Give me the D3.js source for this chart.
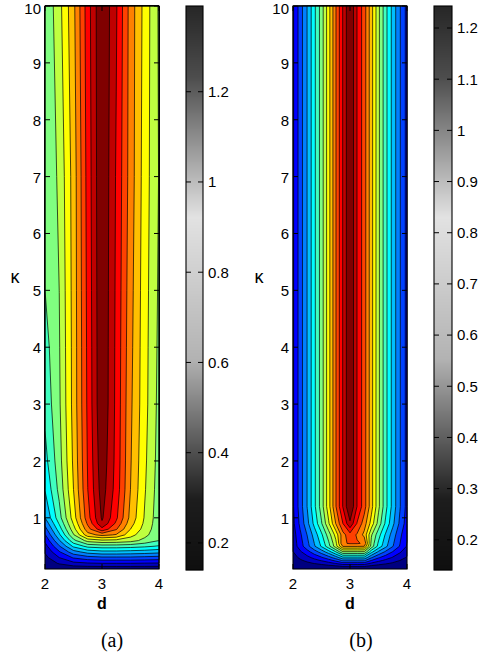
<!DOCTYPE html>
<html><head><meta charset="utf-8">
<script src="https://cdn.jsdelivr.net/npm/d3@7"></script>
<style>body{margin:0;background:#fff}</style>
</head><body>
<svg id="chart" width="478" height="660"></svg>
<script>
// ---------- data: panel (a) ----------
const dA = [2, 2.25, 2.5, 2.75, 3, 3.25, 3.5, 3.75, 4];
const kappaA = [0.1, 0.2, 0.3, 0.4, 0.5, 0.6, 0.7, 0.8, 0.9, 1, 1.5, 2, 3, 4, 5, 7, 10];
const zA = [
  [0.140, 0.147, 0.151, 0.155, 0.155, 0.155, 0.155, 0.155, 0.155],
  [0.166, 0.221, 0.265, 0.280, 0.287, 0.287, 0.287, 0.283, 0.280],
  [0.191, 0.287, 0.368, 0.405, 0.419, 0.419, 0.419, 0.412, 0.405],
  [0.221, 0.353, 0.478, 0.537, 0.559, 0.559, 0.552, 0.544, 0.530],
  [0.258, 0.427, 0.596, 0.677, 0.691, 0.691, 0.684, 0.669, 0.647],
  [0.302, 0.500, 0.706, 0.831, 0.860, 0.853, 0.831, 0.779, 0.728],
  [0.353, 0.566, 0.794, 0.993, 1.044, 1.015, 0.904, 0.824, 0.743],
  [0.405, 0.618, 0.846, 1.066, 1.220, 1.103, 0.949, 0.846, 0.750],
  [0.456, 0.662, 0.882, 1.110, 1.305, 1.154, 0.978, 0.860, 0.754],
  [0.508, 0.699, 0.912, 1.140, 1.327, 1.184, 1.000, 0.868, 0.757],
  [0.585, 0.750, 0.949, 1.169, 1.353, 1.213, 1.022, 0.882, 0.765],
  [0.629, 0.772, 0.963, 1.176, 1.367, 1.220, 1.029, 0.890, 0.772],
  [0.677, 0.790, 0.975, 1.184, 1.386, 1.224, 1.037, 0.901, 0.779],
  [0.699, 0.796, 0.976, 1.187, 1.387, 1.226, 1.044, 0.903, 0.785],
  [0.728, 0.802, 0.978, 1.191, 1.388, 1.229, 1.050, 0.906, 0.790],
  [0.732, 0.817, 0.981, 1.198, 1.390, 1.235, 1.062, 0.912, 0.798],
  [0.735, 0.850, 1.004, 1.209, 1.390, 1.251, 1.065, 0.921, 0.792]
];
const cRangeA = [0.14, 1.39];
const cbTicksA = [0.2, 0.4, 0.6, 0.8, 1, 1.2];

// ---------- data: panel (b) ----------
const dB = [2, 2.125, 2.25, 2.375, 2.5, 2.625, 2.75, 2.875, 3, 3.125, 3.25, 3.375, 3.5, 3.625, 3.75, 3.875, 4];
const kappaB = [0.1, 0.15, 0.2, 0.25, 0.3, 0.4, 0.5, 0.55, 0.7, 0.9, 1.2, 10];
const zB = [
  [0.143, 0.146, 0.148, 0.150, 0.152, 0.155, 0.158, 0.163, 0.163, 0.163, 0.163, 0.156, 0.153, 0.151, 0.148, 0.146, 0.144],
  [0.149, 0.156, 0.162, 0.170, 0.177, 0.186, 0.196, 0.213, 0.213, 0.213, 0.213, 0.192, 0.180, 0.172, 0.165, 0.158, 0.152],
  [0.160, 0.176, 0.192, 0.209, 0.226, 0.248, 0.275, 0.312, 0.312, 0.312, 0.312, 0.262, 0.234, 0.215, 0.198, 0.182, 0.168],
  [0.170, 0.196, 0.221, 0.249, 0.276, 0.309, 0.352, 0.411, 0.411, 0.411, 0.411, 0.335, 0.288, 0.257, 0.231, 0.206, 0.183],
  [0.181, 0.217, 0.251, 0.288, 0.326, 0.371, 0.430, 0.510, 0.510, 0.510, 0.510, 0.405, 0.342, 0.300, 0.264, 0.230, 0.199],
  [0.203, 0.259, 0.311, 0.369, 0.428, 0.498, 0.590, 0.714, 0.714, 0.714, 0.714, 0.550, 0.452, 0.388, 0.331, 0.279, 0.230],
  [0.227, 0.304, 0.377, 0.457, 0.538, 0.636, 0.760, 0.925, 0.925, 0.925, 0.920, 0.700, 0.572, 0.483, 0.404, 0.331, 0.265],
  [0.230, 0.308, 0.383, 0.466, 0.549, 0.649, 0.770, 0.975, 0.990, 0.990, 0.975, 0.705, 0.584, 0.492, 0.411, 0.337, 0.268],
  [0.237, 0.322, 0.403, 0.492, 0.582, 0.691, 0.812, 0.960, 1.023, 0.975, 0.900, 0.732, 0.620, 0.521, 0.434, 0.353, 0.278],
  [0.253, 0.351, 0.445, 0.549, 0.653, 0.780, 0.920, 1.048, 1.166, 1.043, 0.951, 0.828, 0.698, 0.582, 0.481, 0.387, 0.301],
  [0.261, 0.367, 0.468, 0.580, 0.692, 0.828, 0.979, 1.117, 1.243, 1.111, 1.012, 0.879, 0.740, 0.616, 0.507, 0.406, 0.313],
  [0.261, 0.367, 0.468, 0.580, 0.692, 0.828, 0.979, 1.117, 1.243, 1.111, 1.012, 0.879, 0.740, 0.616, 0.507, 0.406, 0.313]
];
const cRangeB = [0.141, 1.243];
const cbTicksB = [0.2, 0.3, 0.4, 0.5, 0.6, 0.7, 0.8, 0.9, 1, 1.1, 1.2];

// ---------- shared ----------
const xTicks = [2, 3, 4];
const yTicks = [1, 2, 3, 4, 5, 6, 7, 8, 9, 10];
const xDomain = [2, 4];
const yDomain = [0.1, 10];
const nBands = 17;

function jet(t) {
  const c = v => Math.max(0, Math.min(1, v));
  const r = c(1.5 - Math.abs(4 * t - 3)), g = c(1.5 - Math.abs(4 * t - 2)), b = c(1.5 - Math.abs(4 * t - 1));
  return d3.rgb(r * 255, g * 255, b * 255);
}
function jetGray(t) {
  const c = jet(t);
  const l = 0.299 * c.r + 0.587 * c.g + 0.114 * c.b;
  return d3.rgb(l, l, l);
}

const svg = d3.select("#chart");
const sans = "Arial, 'Liberation Sans', Helvetica, sans-serif";
const fs = 15;

function panel(cfg) {
  const { dVals, kVals, z, cRange, cbTicks, x0, x1, cb0, cb1, caption, kappaX } = cfg;
  const y0 = 6, y1 = 569;
  const xS = d3.scaleLinear().domain(xDomain).range([x0, x1]);
  const yS = d3.scaleLinear().domain(yDomain).range([y1, y0]);
  const g = svg.append("g");
  const n = dVals.length, m = kVals.length;
  const flat = [];
  for (let j = 0; j < m; j++) for (let i = 0; i < n; i++) flat.push(z[j][i]);
  const step = (cRange[1] - cRange[0]) / nBands;
  const thr = d3.range(1, nBands).map(i => cRange[0] + i * step);
  const contours = d3.contours().size([n, m]).smooth(true).thresholds(thr)(flat);
  const ix = d3.scaleLinear().domain(d3.range(n)).range(dVals);
  const iy = d3.scaleLinear().domain(d3.range(m)).range(kVals);
  const proj = d3.geoTransform({
    point(px, py) {
      const si = Math.max(0, Math.min(n - 1, px - 0.5));
      const sj = Math.max(0, Math.min(m - 1, py - 0.5));
      this.stream.point(xS(ix(si)), yS(iy(sj)));
    }
  });
  const path = d3.geoPath(proj);
  g.append("rect").attr("x", x0).attr("y", y0).attr("width", x1 - x0).attr("height", y1 - y0)
    .attr("fill", jet(0));
  g.selectAll("path.band").data(contours).join("path").attr("class", "band")
    .attr("d", path)
    .attr("fill", (d, i) => jet((i + 1) / (nBands - 1)))
    .attr("stroke", "#000").attr("stroke-width", 0.7).attr("stroke-linejoin", "round");
  // frame
  g.append("rect").attr("x", x0).attr("y", y0).attr("width", x1 - x0).attr("height", y1 - y0)
    .attr("fill", "none").attr("stroke", "#000").attr("stroke-width", 1.1);
  // ticks
  const tl = 5;
  yTicks.forEach(v => {
    const y = yS(v);
    g.append("line").attr("x1", x0).attr("x2", x0 + tl).attr("y1", y).attr("y2", y).attr("stroke", "#000");
    g.append("line").attr("x1", x1 - tl).attr("x2", x1).attr("y1", y).attr("y2", y).attr("stroke", "#000");
    g.append("text").attr("x", x0 - 4).attr("y", Math.max(y + 0.5, 8.5)).attr("dy", "0.36em").attr("text-anchor", "end")
      .attr("font-family", sans).attr("font-size", fs).text(v);
  });
  xTicks.forEach(v => {
    const x = xS(v);
    g.append("line").attr("x1", x).attr("x2", x).attr("y1", y1).attr("y2", y1 - tl).attr("stroke", "#000");
    g.append("line").attr("x1", x).attr("x2", x).attr("y1", y0).attr("y2", y0 + tl).attr("stroke", "#000");
    g.append("text").attr("x", x).attr("y", 589).attr("text-anchor", "middle")
      .attr("font-family", sans).attr("font-size", fs).text(v);
  });
  g.append("text").attr("x", xS(3)).attr("y", 609).attr("text-anchor", "middle")
    .attr("font-family", sans).attr("font-size", 16).attr("font-weight", "bold").text("d");
  g.append("text").attr("x", kappaX).attr("y", 283).attr("text-anchor", "middle")
    .attr("font-family", sans).attr("font-size", 18).text("κ");
  g.append("text").attr("x", xS(3) + cfg.capDx).attr("y", 647).attr("text-anchor", "middle")
    .attr("font-family", "'Liberation Serif', 'DejaVu Serif', serif").attr("font-size", 20).text(caption);

  // colorbar
  const cS = d3.scaleLinear().domain(cRange).range([570, 6]);
  const cb = svg.append("g");
  const rows = d3.range(6, 570, 1);
  cb.selectAll("rect.cb").data(rows).join("rect").attr("class", "cb")
    .attr("x", cb0).attr("width", cb1 - cb0).attr("y", d => d).attr("height", 1.2)
    .attr("fill", d => jetGray((cS.invert(d + 0.5) - cRange[0]) / (cRange[1] - cRange[0])));
  cb.append("rect").attr("x", cb0).attr("y", 6).attr("width", cb1 - cb0).attr("height", 564)
    .attr("fill", "none").attr("stroke", "#000").attr("stroke-width", 1.1);
  cbTicks.forEach(v => {
    const y = cS(v);
    cb.append("line").attr("x1", cb0).attr("x2", cb0 + 5).attr("y1", y).attr("y2", y).attr("stroke", "#000");
    cb.append("line").attr("x1", cb1 - 5).attr("x2", cb1).attr("y1", y).attr("y2", y).attr("stroke", "#000");
    cb.append("text").attr("x", cb1 + 5).attr("y", y).attr("dy", "0.36em")
      .attr("font-family", sans).attr("font-size", fs).text(v);
  });
}

panel({ dVals: dA, kVals: kappaA, z: zA, cRange: cRangeA, cbTicks: cbTicksA,
  x0: 45, x1: 159, cb0: 186, cb1: 203, caption: "(a)", kappaX: 15, capDx: 10 });
panel({ dVals: dB, kVals: kappaB, z: zB, cRange: cRangeB, cbTicks: cbTicksB,
  x0: 293, x1: 407, cb0: 434, cb1: 452, caption: "(b)", kappaX: 259, capDx: 11 });
</script>
</body></html>
